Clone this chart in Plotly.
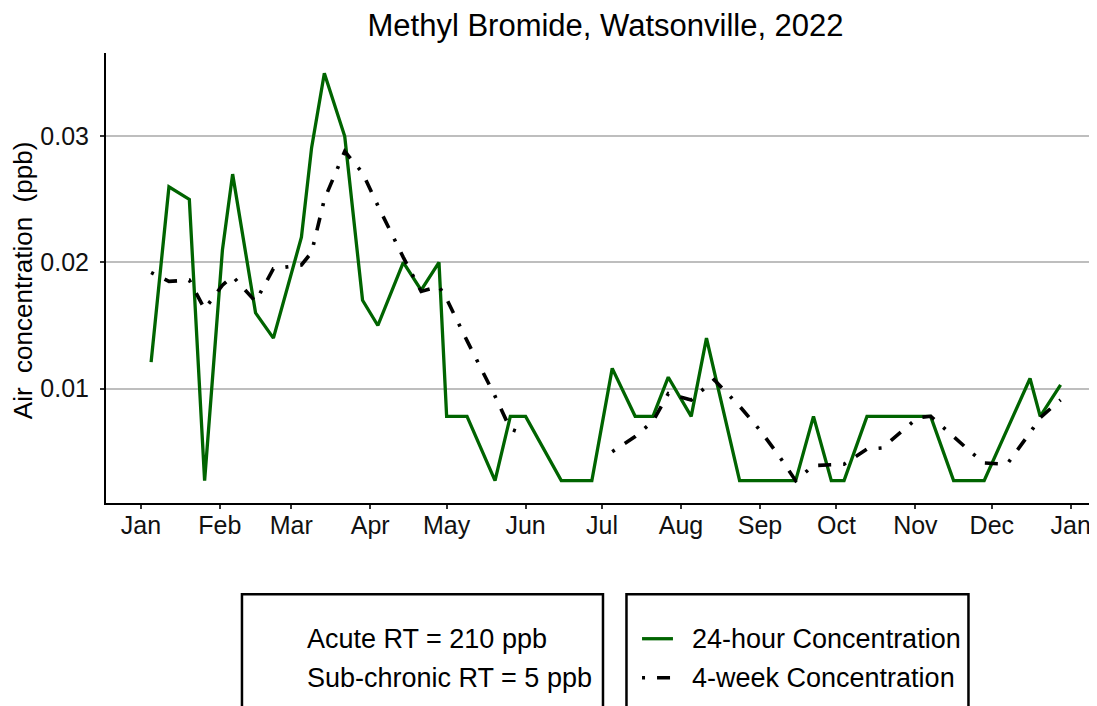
import plotly.graph_objects as go

# 24-hour samples (ppb)
day_dates = [
    "2022-01-05", "2022-01-12", "2022-01-20", "2022-01-26", "2022-02-02", "2022-02-06",
    "2022-02-15", "2022-02-22", "2022-03-05", "2022-03-09", "2022-03-14", "2022-03-22",
    "2022-03-29", "2022-04-04", "2022-04-14", "2022-04-21", "2022-04-28", "2022-05-01",
    "2022-05-09", "2022-05-20", "2022-05-26", "2022-06-01", "2022-06-15", "2022-06-27",
    "2022-07-05", "2022-07-14", "2022-07-21", "2022-07-27", "2022-08-05", "2022-08-11",
    "2022-08-24", "2022-09-15", "2022-09-22", "2022-09-29", "2022-10-04", "2022-10-13",
    "2022-11-07", "2022-11-16", "2022-11-28", "2022-12-16", "2022-12-20", "2022-12-28",
]
day_conc = [
    0.0121, 0.0260, 0.0250, 0.0027, 0.0210, 0.0270,
    0.0160, 0.0140, 0.0220, 0.0291, 0.0350, 0.0300,
    0.0170, 0.0150, 0.0200, 0.0178, 0.0200, 0.0078,
    0.0078, 0.0027, 0.0078, 0.0078, 0.0027, 0.0027,
    0.0116, 0.0078, 0.0078, 0.0109, 0.0078, 0.0140,
    0.0027, 0.0027, 0.0078, 0.0027, 0.0027, 0.0078,
    0.0078, 0.0027, 0.0027, 0.0108, 0.0078, 0.0103,
]

# 4-week running concentration (ppb), gap in June
week_dates = [
    "2022-01-05", "2022-01-12", "2022-01-20", "2022-01-26", "2022-02-02", "2022-02-06",
    "2022-02-15", "2022-02-22", "2022-03-05", "2022-03-09", "2022-03-14", "2022-03-22",
    "2022-03-29", "2022-04-04", "2022-04-14", "2022-04-21", "2022-04-28", "2022-05-01",
    "2022-05-09", "2022-05-20", "2022-05-26", "2022-05-30", "2022-06-15",
    "2022-07-05", "2022-07-14", "2022-07-21", "2022-07-27", "2022-08-05", "2022-08-14",
    "2022-08-24", "2022-09-01", "2022-09-08", "2022-09-15", "2022-09-22", "2022-09-29",
    "2022-10-04", "2022-10-13", "2022-10-19", "2022-11-02", "2022-11-07", "2022-11-16",
    "2022-11-22", "2022-11-28", "2022-12-07", "2022-12-16", "2022-12-20", "2022-12-28",
]
week_conc = [
    0.0192, 0.0185, 0.0186, 0.0163, 0.0182, 0.0189,
    0.0169, 0.0195, 0.0198, 0.0208, 0.0250, 0.0288,
    0.0271, 0.0245, 0.0204, 0.0177, 0.0181, 0.0171,
    0.0138, 0.0094, 0.0068, 0.0065, None,
    0.0050, 0.0062, 0.0074, 0.0096, 0.0091, 0.0107,
    0.0086, 0.0067, 0.0048, 0.0027, 0.0039, 0.0040,
    0.0040, 0.0052, 0.0053, 0.0077, 0.0078, 0.0062,
    0.0051, 0.0041, 0.0040, 0.0065, 0.0077, 0.0091,
]

ref_lines = ["Acute RT = 210 ppb", "Sub-chronic RT = 5 ppb"]
series_names = ["24-hour Concentration", "4-week Concentration"]
y_ticks = [0.01, 0.02, 0.03]

FONT = "Liberation Sans, Arial, sans-serif"
GREEN = "#006400"
DASHDOT = "3px,12px,13px,12px"

fig = go.Figure()
fig.add_trace(go.Scatter(
    x=day_dates, y=day_conc, mode="lines", name=series_names[0],
    line=dict(color=GREEN, width=3.3),
))
fig.add_trace(go.Scatter(
    x=week_dates, y=week_conc, mode="lines", name=series_names[1],
    connectgaps=False,
    line=dict(color="black", width=3.6, dash=DASHDOT),
))

fig.update_xaxes(
    type="date", range=["2021-12-18 07:00", "2023-01-11 07:00"],
    dtick="M1", tick0="2022-01-01", tickformat="%b",
    showgrid=False, zeroline=False,
    showline=True, linecolor="black", linewidth=2,
    ticks="outside", ticklen=4, tickwidth=1.5, tickcolor="#333",
    ticklabelstandoff=-5,
    tickfont=dict(size=25, color="#111", family=FONT),
)
fig.update_yaxes(
    range=[0.00093, 0.0366], tickvals=y_ticks, ticktext=[f"{v:.2f}" for v in y_ticks],
    showgrid=True, gridcolor="#BEBEBE", gridwidth=1.5, zeroline=False,
    showline=True, linecolor="black", linewidth=2,
    ticks="outside", ticklen=4, tickwidth=1.5, tickcolor="#333",
    ticklabelstandoff=6,
    tickfont=dict(size=25, color="#111", family=FONT),
)

# y axis title
fig.add_annotation(
    text="Air\u00a0 concentration\u00a0 (ppb)", textangle=-90,
    xref="paper", yref="paper", x=-0.0843, y=0.494,
    xanchor="center", yanchor="middle", showarrow=False,
    font=dict(size=26, color="black", family=FONT),
)

# legend: two framed boxes under the plot
box_top, box_bottom = -0.2027, -0.5
for x0, x1 in [(0.1372, 0.5015), (0.5252, 0.8703)]:
    fig.add_shape(type="rect", xref="paper", yref="paper",
                  x0=x0, x1=x1, y0=box_top, y1=box_bottom,
                  line=dict(color="black", width=2.5))

row_y = [-0.3016, -0.3882]
for txt, yy in zip(ref_lines, row_y):
    fig.add_annotation(
        text=txt, xref="paper", yref="paper", x=0.2013, y=yy,
        xanchor="left", yanchor="middle", showarrow=False,
        font=dict(size=27, color="black", family=FONT),
    )

sample_styles = [dict(color=GREEN, width=3.3), dict(color="black", width=3.6, dash=DASHDOT)]
for name, style, yy in zip(series_names, sample_styles, row_y):
    fig.add_shape(type="line", xref="paper", yref="paper",
                  x0=0.5409, x1=0.5721, y0=yy, y1=yy, line=style)
    fig.add_annotation(
        text=name, xref="paper", yref="paper", x=0.5888, y=yy,
        xanchor="left", yanchor="middle", showarrow=False,
        font=dict(size=27, color="black", family=FONT),
    )

fig.update_layout(
    width=1089, height=698,
    margin=dict(l=98, r=0, t=45, b=203),
    paper_bgcolor="white", plot_bgcolor="white",
    font=dict(family=FONT, color="black"),
    title=dict(
        text="Methyl Bromide, Watsonville, 2022",
        x=0.5487, xref="container", xanchor="center",
        y=0.9756, yref="container", yanchor="middle",
        font=dict(size=31, color="black", family=FONT),
    ),
    showlegend=False,
)

fig.write_html("out.html")
